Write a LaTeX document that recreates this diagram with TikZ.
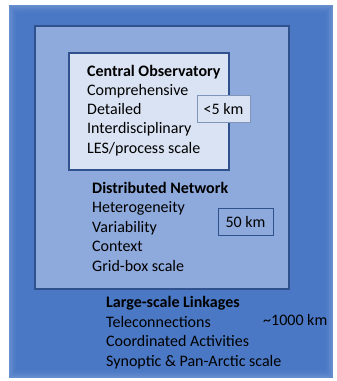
\documentclass[tikz,border=0pt]{standalone}
\usepackage{fontspec}
\setmainfont{Carlito}
\definecolor{outerblue}{HTML}{4A78C4}
\definecolor{edgeblue}{HTML}{7FA0D8}
\definecolor{midblue}{HTML}{8EA9DB}
\definecolor{innerblue}{HTML}{DAE3F3}
\definecolor{darkline}{HTML}{2F528F}
\definecolor{boxline}{HTML}{7F96B8}
\begin{document}
\begin{tikzpicture}[x=1pt,y=-1pt,
  txt/.style={anchor=base west,inner sep=0pt,font=\fontsize{16}{19}\selectfont},
  hdr/.style={txt,font=\fontsize{16}{19}\selectfont\bfseries},
  scalebox/.style={draw,line width=0.8pt,anchor=center,inner sep=0pt,font=\fontsize{16}{19}\selectfont}]
\useasboundingbox (0,0) rectangle (337,381);
\fill[white] (0,0) rectangle (337,381);
% outer blue with soft edge
\foreach \i/\c in {0/55,1/45,2/36,3/28,4/20,5/13,6/7,7/3,8/0}{
  \fill[edgeblue!\c!outerblue] (9+\i,5+\i) rectangle (333-\i,378-\i);
}
\node[draw=darkline,line width=1.5pt,fill=midblue,minimum width=254pt,minimum height=263pt,anchor=north west,inner sep=0pt] (mid) at (34,25) {};
\node[draw=darkline,line width=1.5pt,fill=innerblue,minimum width=160pt,minimum height=117pt,anchor=north west,inner sep=0pt] (inner) at (68,52) {};
\node[scalebox,draw=boxline,fill=innerblue,minimum width=53pt,minimum height=27pt] (s5) at (223.5,108.5) {<5 km};
\node[scalebox,draw=darkline,fill=midblue,minimum width=55pt,minimum height=27pt] (s50) at (245.5,221.5) {50 km};
% central observatory
\node[hdr] (co) at (87,76) {Central Observatory};
\node[txt] (c1) at (87,95) {Comprehensive};
\node[txt] (c2) at (87,114) {Detailed};
\node[txt] (c3) at (87,133) {Interdisciplinary};
\node[txt] (c4) at (87,153) {LES/process scale};
% distributed network
\node[hdr] (dn) at (92,193) {Distributed Network};
\node[txt] (d1) at (92,212) {Heterogeneity};
\node[txt] (d2) at (92,232) {Variability};
\node[txt] (d3) at (92,251) {Context};
\node[txt] (d4) at (92,271) {Grid-box scale};
% large-scale
\node[hdr] (ll) at (106,307) {Large-scale Linkages};
\node[txt] (l1) at (106,327) {Teleconnections};
\node[txt] (l2) at (106,346) {Coordinated Activities};
\node[txt] (l3) at (106,366) {Synoptic \& Pan-Arctic scale};
\node[txt] (k1) at (263,325) {\textasciitilde 1000 km};
\end{tikzpicture}
\end{document}
